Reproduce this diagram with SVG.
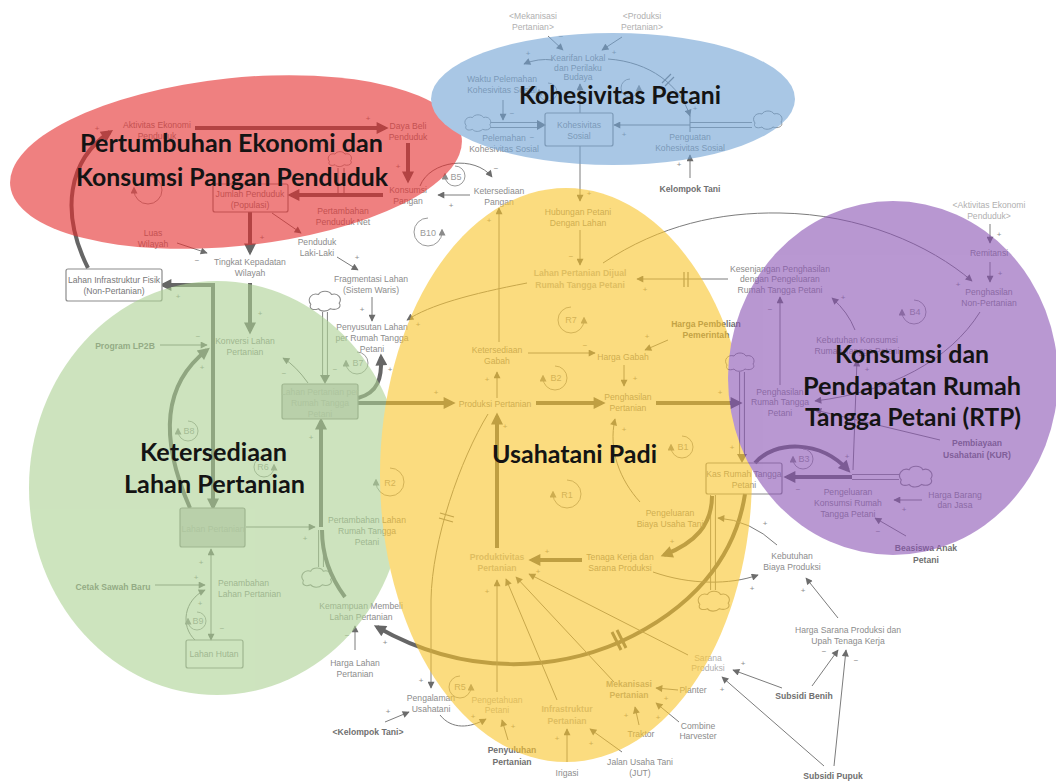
<svg xmlns="http://www.w3.org/2000/svg" width="1056" height="782" viewBox="0 0 1056 782">
<defs>
<style>
.t{font-family:"Liberation Sans",Arial,sans-serif;font-size:8.6px;fill:#8c8c8c;text-anchor:middle}
.b{font-weight:bold;fill:#707070}
.l{fill:#b0b0b0}
.lb{font-weight:bold;fill:#b4b4b4}
.sg{font-family:"Liberation Sans",Arial,sans-serif;font-size:8px;fill:#8c8c8c;text-anchor:middle}
.lp{font-family:"Liberation Sans",Arial,sans-serif;font-size:9px;fill:#9a9a9a;text-anchor:middle}
.c{fill:none;stroke:#7c7c7c;stroke-width:1}
.k{fill:none;stroke:#666;stroke-width:4}
.dm{fill:none;stroke:#777;stroke-width:1.2}
.box{fill:none;stroke:#8c8c8c;stroke-width:1.2}
.stk{fill:#cdcdcd;stroke:#8c8c8c;stroke-width:1.2}
.po{fill:none;stroke:#8c8c8c;stroke-width:6}
.pi{fill:none;stroke:#fff;stroke-width:3.8}
.lpc{fill:none;stroke:#9a9a9a;stroke-width:1}
.ttl{font-family:Lato,"Open Sans",sans-serif;font-weight:bold;font-size:24px;fill:#141414}
.reg{opacity:0.6}
</style>
<marker id="a" viewBox="0 0 10 10" refX="9" refY="5" markerWidth="9" markerHeight="7" markerUnits="userSpaceOnUse" orient="auto-start-reverse"><path d="M0,0L10,5L0,10z" fill="#6c6c6c"/></marker>
<marker id="A" viewBox="0 0 10 10" refX="7" refY="5" markerWidth="15" markerHeight="12" markerUnits="userSpaceOnUse" orient="auto-start-reverse"><path d="M0,0L10,5L0,10z" fill="#666"/></marker>
<marker id="s" viewBox="0 0 10 10" refX="5" refY="5" markerWidth="7" markerHeight="7" markerUnits="userSpaceOnUse" orient="auto"><path d="M0,0L10,5L0,10z" fill="#8a8a8a"/></marker>
<symbol id="cloud" viewBox="-17 -11 34 22"><path d="M-13,3C-17,-2 -12,-8 -6,-6C-4,-10 4,-10 6,-6C12,-8 16,-2 13,2C16,6 10,9 5,7C2,10 -4,10 -6,7C-11,9 -15,7 -13,3Z" fill="#fff" stroke="#8c8c8c" stroke-width="1"/></symbol>
</defs>
<rect width="1056" height="782" fill="#fff"/>

<!-- flows: pipes and clouds -->
<g id="flows">
  <path class="po" d="M490,125L540,125"/><path class="pi" d="M489,125L541,125"/>
  <polygon points="546,125 537,120 537,130" fill="#6c6c6c"/>
  <path class="po" d="M690,125L752,125"/><path class="pi" d="M689,125L753,125"/>
  <path class="c" d="M690,116L690,132"/>
  <use href="#cloud" x="462" y="113" width="32" height="20"/>
  <use href="#cloud" x="751" y="109" width="34" height="22"/>
  <use href="#cloud" x="325" y="150" width="30" height="18"/>
  <path class="c" d="M338,168L338,193M344,168L344,193"/>
  <path class="po" d="M325,312L325,377"/><path class="pi" d="M325,311L325,378"/>
  <polygon points="325,384 320,375 330,375" fill="#6c6c6c"/>
  <use href="#cloud" x="306" y="289" width="38" height="24"/>
  <path class="po" d="M321,530L321,567"/><path class="pi" d="M321,529L321,568"/>
  <use href="#cloud" x="299" y="566" width="36" height="23"/>
  <path class="po" d="M742,372L742,456"/><path class="pi" d="M742,371L742,457"/>
  <polygon points="742,463 737,454 747,454" fill="#6c6c6c"/>
  <use href="#cloud" x="723" y="351" width="34" height="22"/>
  <path class="po" d="M852,477L899,477"/><path class="pi" d="M851,477L900,477"/>
  <use href="#cloud" x="896" y="464" width="40" height="25"/>
  <path class="po" d="M713,495L713,590"/><path class="pi" d="M713,494L713,591"/>
  <use href="#cloud" x="695" y="589" width="38" height="24"/>
</g>

<!-- causal links -->
<g id="connectors">
  <!-- social cohesion -->
  <path class="c" marker-end="url(#a)" d="M548,36L563,50"/>
  <path class="c" marker-end="url(#a)" d="M622,37L602,50"/>
  <path class="c" marker-end="url(#a)" d="M553,60Q538,58 524,64"/>
  <path class="c" marker-end="url(#a)" d="M608,59C650,62 680,85 690,116"/>
  <path class="dm" d="M662,83L671,74M665,86L674,77"/>
  <path class="c" marker-end="url(#a)" d="M503,100L503,120"/>
  <path class="c" marker-end="url(#a)" d="M690,125L614,125"/>
  <path class="c" marker-end="url(#a)" d="M580,113L580,84"/>
  <path class="c" marker-end="url(#a)" d="M580,146L580,201"/>
  <path class="c" marker-end="url(#a)" d="M690,178L690,155"/>
  <!-- population and food consumption -->
  <path class="k" marker-end="url(#A)" d="M195,128L385,128"/>
  <path class="k" marker-end="url(#A)" d="M408,143L408,180"/>
  <path class="k" marker-end="url(#A)" d="M383,195L291,195"/>
  <path class="k" marker-end="url(#A)" d="M250,212L250,252"/>
  <path class="c" marker-end="url(#a)" d="M272,213L301,233"/>
  <path class="c" marker-end="url(#a)" d="M420,186C430,160 475,155 492,177"/>
  <path class="c" marker-end="url(#a)" d="M470,195L438,195"/>
  <path class="c" marker-end="url(#a)" d="M177,243L207,253"/>
  <path class="k" marker-end="url(#A)" d="M88,268C60,212 68,160 110,132"/>
  <path class="c" marker-end="url(#a)" d="M337,257L358,270"/>
  <!-- land availability -->
  <path class="k" marker-end="url(#A)" d="M213,287L213,507"/>
  <path class="k" marker-end="url(#A)" d="M215,285L163,285"/>
  <path class="k" marker-end="url(#A)" d="M250,283L250,331"/>
  <path class="c" marker-end="url(#a)" d="M160,345L207,345"/>
  <path class="k" marker-end="url(#A)" d="M190,508C160,440 162,385 207,350"/>
  <path class="c" marker-end="url(#a)" d="M308,383Q296,366 283,358"/>
  <path class="k" marker-end="url(#A)" d="M358,403L452,403"/>
  <path class="k" marker-end="url(#A)" d="M358,398C378,393 382,378 381,357"/>
  <path class="c" marker-end="url(#a)" d="M372,297L372,321"/>
  <path class="c" marker-end="url(#a)" d="M527,283C470,294 430,305 407,320"/>
  <path class="k" marker-end="url(#A)" d="M321,527L321,421"/>
  <path class="c" marker-end="url(#a)" d="M246,527L315,527"/>
  <path class="k" d="M345,597C330,577 322,555 322,530"/>
  <path class="c" marker-start="url(#a)" marker-end="url(#a)" d="M211,549L211,640"/>
  <path class="c" marker-end="url(#a)" d="M155,585L205,585"/>
  <path class="c" marker-end="url(#a)" d="M195,640C180,626 184,600 205,590"/>
  <path class="c" marker-end="url(#a)" d="M355,650L355,626"/>
  <path class="k" marker-end="url(#A)" d="M745,494C735,560 690,610 620,642C560,668 470,680 377,627"/>
  <path class="dm" style="stroke-width:3;stroke:#666" d="M612,632L621,650M617,630L626,648"/>
  <!-- rice farming -->
  <path class="c" marker-end="url(#a)" d="M580,230L580,265"/>
  <path class="c" marker-end="url(#a)" d="M728,279L637,279"/>
  <path class="dm" d="M684,272L684,287M688,272L688,287"/>
  <path class="c" marker-end="url(#a)" d="M603,263C660,225 720,212 780,213C860,214 930,245 972,281"/>
  <path class="c" marker-end="url(#a)" d="M499,342L499,208"/>
  <path class="c" marker-end="url(#a)" d="M528,353L595,353"/>
  <path class="c" marker-end="url(#a)" d="M668,340L645,350"/>
  <path class="c" marker-end="url(#a)" d="M624,365L624,386"/>
  <path class="c" marker-end="url(#a)" d="M497,398L497,372"/>
  <path class="k" marker-end="url(#A)" d="M536,403L602,403"/>
  <path class="k" marker-end="url(#A)" d="M656,403L739,403"/>
  <path class="c" marker-end="url(#a)" d="M640,502C620,480 608,450 615,419"/>
  <path class="c" marker-end="url(#a)" d="M777,545Q750,520 718,518"/>
  <path class="k" marker-end="url(#A)" d="M712,496C712,525 695,543 664,555"/>
  <path class="k" marker-end="url(#A)" d="M582,560L532,560"/>
  <path class="c" marker-end="url(#a)" d="M653,572C690,585 730,585 758,575"/>
  <path class="c" marker-end="url(#a)" d="M838,618L806,578"/>
  <path class="c" marker-end="url(#a)" d="M812,686L838,650"/>
  <path class="c" marker-end="url(#a)" d="M834,766L846,650"/>
  <path class="c" marker-end="url(#a)" d="M782,688L733,670"/>
  <path class="c" marker-end="url(#a)" d="M824,766L722,677"/>
  <path class="c" marker-end="url(#a)" d="M688,655L529,574"/>
  <path class="c" marker-end="url(#a)" d="M614,682L516,577"/>
  <path class="c" marker-end="url(#a)" d="M557,700L506,579"/>
  <path class="c" marker-end="url(#a)" d="M497,692L497,580"/>
  <path class="k" marker-end="url(#A)" d="M497,548L497,416"/>
  <path class="c" marker-end="url(#a)" d="M488,414C460,460 432,540 431,600L431,688"/>
  <path class="dm" d="M440,513L454,517M439,518L453,522"/>
  <path class="c" marker-end="url(#a)" d="M385,722L409,712"/>
  <path class="c" marker-end="url(#a)" d="M440,715C452,730 470,728 486,719"/>
  <path class="c" marker-end="url(#a)" d="M508,740L502,720"/>
  <path class="c" marker-end="url(#a)" d="M567,762L567,729"/>
  <path class="c" marker-end="url(#a)" d="M622,752L590,729"/>
  <path class="c" marker-end="url(#a)" d="M678,690L656,688"/>
  <path class="c" marker-end="url(#a)" d="M639,725L635,707"/>
  <path class="c" marker-end="url(#a)" d="M679,722L656,703"/>
  <!-- household income and consumption -->
  <path class="c" marker-end="url(#a)" d="M780,385L780,297"/>
  <path class="c" marker-end="url(#a)" d="M855,330Q848,312 832,298"/>
  <path class="c" marker-end="url(#a)" d="M853,470L857,360"/>
  <path class="c" marker-end="url(#a)" d="M990,224L990,243"/>
  <path class="c" marker-end="url(#a)" d="M990,262L990,282"/>
  <path class="c" marker-end="url(#a)" d="M980,312C950,360 890,392 815,401"/>
  <path class="c" marker-end="url(#a)" d="M940,440L815,410"/>
  <path class="k" marker-end="url(#A)" d="M852,477L787,477"/>
  <path class="k" marker-end="url(#A)" d="M755,463C775,440 820,440 848,470"/>
  <path class="c" marker-end="url(#a)" d="M922,500L894,500"/>
  <path class="c" marker-end="url(#a)" d="M906,536L875,518"/>
</g>

<!-- loop markers -->
<g id="loops">
  <path class="lpc" marker-end="url(#s)" d="M455,166A10,10 0 1 1 445,176"/><text class="lp" x="456" y="180">B5</text>
  <path class="lpc" marker-end="url(#s)" d="M428,218A14,14 0 1 0 442,232"/><text class="lp" x="428" y="236">B10</text>
  <path class="lpc" marker-end="url(#s)" d="M148,176A14,14 0 1 1 134,190"/>
  <path class="lpc" marker-end="url(#s)" d="M548,83A9,9 0 1 1 539,92"/>
  <path class="lpc" marker-end="url(#s)" d="M630,79A9,9 0 1 0 639,88"/>
  <path class="lpc" marker-end="url(#s)" d="M188,421A10,10 0 1 1 178,431"/><text class="lp" x="189" y="434">B8</text>
  <path class="lpc" marker-end="url(#s)" d="M357,352A11,11 0 1 1 346,363"/><text class="lp" x="358" y="366">B7</text>
  <path class="lpc" marker-end="url(#s)" d="M264,457A10,10 0 1 0 274,467"/><text class="lp" x="263" y="470">R6</text>
  <path class="lpc" marker-end="url(#s)" d="M197,612A9,9 0 1 1 188,621"/><text class="lp" x="198" y="624">B9</text>
  <path class="lpc" marker-end="url(#s)" d="M390,468A14,14 0 1 1 376,482"/><text class="lp" x="390" y="486">R2</text>
  <path class="lpc" marker-end="url(#s)" d="M567,480A14,14 0 1 1 553,494"/><text class="lp" x="567" y="498">R1</text>
  <path class="lpc" marker-end="url(#s)" d="M682,436A11,11 0 1 1 671,447"/><text class="lp" x="683" y="450">B1</text>
  <path class="lpc" marker-end="url(#s)" d="M555,366A12,12 0 1 1 543,378"/><text class="lp" x="556" y="381">B2</text>
  <path class="lpc" marker-end="url(#s)" d="M571,307A13,13 0 1 0 584,320"/><text class="lp" x="571" y="323">R7</text>
  <path class="lpc" marker-end="url(#s)" d="M803,449A10,10 0 1 1 793,459"/><text class="lp" x="804" y="462">B3</text>
  <path class="lpc" marker-end="url(#s)" d="M914,300A12,12 0 1 1 902,312"/><text class="lp" x="915" y="315">B4</text>
  <path class="lpc" marker-end="url(#s)" d="M460,676A11,11 0 1 0 471,687"/><text class="lp" x="460" y="690">R5</text>
</g>

<!-- polarity signs -->
<g id="signs" class="sg">
  <text x="561" y="39">−</text><text x="528" y="56">+</text><text x="614" y="55">+</text>
  <text x="512" y="116">−</text><text x="532" y="140">−</text><text x="624" y="137">+</text>
  <text x="695" y="111">+</text><text x="679" y="167">+</text><text x="589" y="196">+</text>
  <text x="368" y="121">+</text><text x="398" y="169">+</text><text x="451" y="208">+</text>
  <text x="262" y="240">+</text><text x="97" y="131">+</text><text x="197" y="263">−</text>
  <text x="357" y="260">+</text><text x="496" y="171">−</text>
  <text x="178" y="299">+</text><text x="260" y="316">+</text><text x="198" y="339">−</text>
  <text x="202" y="370">+</text><text x="284" y="376">−</text><text x="335" y="372">−</text>
  <text x="311" y="440">+</text><text x="362" y="312">+</text><text x="418" y="327">+</text>
  <text x="390" y="372">+</text><text x="436" y="395">+</text>
  <text x="201" y="565">+</text><text x="196" y="580">+</text><text x="200" y="606">+</text>
  <text x="222" y="631">−</text><text x="305" y="541">+</text><text x="347" y="638">−</text>
  <text x="385" y="645">+</text>
  <text x="489" y="223">+</text><text x="571" y="259">−</text><text x="645" y="292">+</text>
  <text x="647" y="339">+</text><text x="585" y="348">−</text><text x="635" y="381">+</text>
  <text x="487" y="382">+</text><text x="505" y="429">+</text><text x="547" y="554">+</text>
  <text x="487" y="594">+</text><text x="538" y="574">+</text><text x="624" y="432">+</text>
  <text x="672" y="544">+</text><text x="720" y="395">+</text><text x="732" y="450">+</text>
  <text x="798" y="492">−</text><text x="847" y="459">+</text><text x="867" y="372">+</text>
  <text x="904" y="512">+</text><text x="878" y="534">−</text><text x="765" y="526">+</text>
  <text x="843" y="300">+</text><text x="770" y="312">−</text><text x="958" y="287">+</text>
  <text x="999" y="237">+</text><text x="1000" y="276">+</text>
  <text x="752" y="591">+</text><text x="803" y="593">+</text><text x="824" y="654">−</text>
  <text x="856" y="663">−</text><text x="743" y="666">+</text><text x="722" y="692">+</text>
  <text x="666" y="701">+</text><text x="658" y="720">+</text>
  <text x="421" y="683">+</text><text x="388" y="714">+</text><text x="473" y="719">+</text>
  <text x="513" y="729">+</text><text x="557" y="741">+</text><text x="591" y="746">+</text>
  <text x="626" y="718">+</text>
</g>

<!-- variables -->
<g id="n-mekanisasi-shadow"><text class="t l"><tspan x="533" y="19">&lt;Mekanisasi</tspan><tspan x="533" y="30">Pertanian&gt;</tspan></text></g>
<g id="n-produksi-shadow"><text class="t l"><tspan x="642" y="19">&lt;Produksi</tspan><tspan x="642" y="30">Pertanian&gt;</tspan></text></g>
<g id="n-kearifan"><text class="t"><tspan x="578" y="61">Kearifan Lokal</tspan><tspan x="578" y="70.5">dan Perilaku</tspan><tspan x="578" y="80">Budaya</tspan></text></g>
<g id="n-waktu"><text class="t"><tspan x="502" y="82">Waktu Pelemahan</tspan><tspan x="502" y="93">Kohesivitas Sosial</tspan></text></g>
<g id="n-kohesivitas"><rect class="box" x="545" y="113" width="68" height="33" rx="2"/><text class="t"><tspan x="579" y="128">Kohesivitas</tspan><tspan x="579" y="139">Sosial</tspan></text></g>
<g id="n-pelemahan"><text class="t"><tspan x="504" y="141">Pelemahan</tspan><tspan x="504" y="152">Kohesivitas Sosial</tspan></text></g>
<g id="n-penguatan"><text class="t"><tspan x="690" y="140">Penguatan</tspan><tspan x="690" y="151">Kohesivitas Sosial</tspan></text></g>
<g id="n-kelompok"><text class="t b" x="690" y="192">Kelompok Tani</text></g>
<g id="n-aktivitas"><text class="t"><tspan x="157" y="128">Aktivitas Ekonomi</tspan><tspan x="157" y="139">Penduduk</tspan></text></g>
<g id="n-dayabeli"><text class="t"><tspan x="408" y="129">Daya Beli</tspan><tspan x="408" y="140">Penduduk</tspan></text></g>
<g id="n-konsumsi"><text class="t"><tspan x="408" y="193">Konsumsi</tspan><tspan x="408" y="204">Pangan</tspan></text></g>
<g id="n-jumlah"><rect class="box" x="213" y="184" width="75" height="28" rx="2"/><text class="t"><tspan x="250" y="197">Jumlah Penduduk</tspan><tspan x="250" y="208">(Populasi)</tspan></text></g>
<g id="n-pertambahan-penduduk"><text class="t"><tspan x="343" y="214">Pertambahan</tspan><tspan x="343" y="225">Penduduk Net</tspan></text></g>
<g id="n-ketersediaan-pangan"><text class="t"><tspan x="499" y="194">Ketersediaan</tspan><tspan x="499" y="205">Pangan</tspan></text></g>
<g id="n-luas"><text class="t"><tspan x="153" y="236">Luas</tspan><tspan x="153" y="247">Wilayah</tspan></text></g>
<g id="n-kepadatan"><text class="t"><tspan x="250" y="265">Tingkat Kepadatan</tspan><tspan x="250" y="276">Wilayah</tspan></text></g>
<g id="n-lakilaki"><text class="t"><tspan x="317" y="245">Penduduk</tspan><tspan x="317" y="256">Laki-Laki</tspan></text></g>
<g id="n-fragmentasi"><text class="t"><tspan x="371" y="282">Fragmentasi Lahan</tspan><tspan x="371" y="293">(Sistem Waris)</tspan></text></g>
<g id="n-infrastruktur-fisik"><rect x="66" y="269" width="96" height="32" rx="2" fill="#fff" stroke="#8c8c8c" stroke-width="1.2"/><text class="t" style="fill:#777"><tspan x="114" y="283">Lahan Infrastruktur Fisik</tspan><tspan x="114" y="294">(Non-Pertanian)</tspan></text></g>
<g id="n-lp2b"><text class="t b" x="125" y="349">Program LP2B</text></g>
<g id="n-konversi"><text class="t"><tspan x="245" y="344">Konversi Lahan</tspan><tspan x="245" y="355">Pertanian</tspan></text></g>
<g id="n-lahan-rtp"><rect class="stk" x="282" y="384" width="76" height="35" rx="2"/><text class="t l"><tspan x="320" y="395">Lahan Pertanian per</tspan><tspan x="320" y="406">Rumah Tangga</tspan><tspan x="320" y="417">Petani</tspan></text></g>
<g id="n-penyusutan"><text class="t"><tspan x="372" y="330">Penyusutan Lahan</tspan><tspan x="372" y="341">per Rumah Tangga</tspan><tspan x="372" y="352">Petani</tspan></text></g>
<g id="n-dijual"><text class="t lb"><tspan x="580" y="276">Lahan Pertanian Dijual</tspan><tspan x="580" y="288">Rumah Tangga Petani</tspan></text></g>
<g id="n-hubungan"><text class="t"><tspan x="578" y="215">Hubungan Petani</tspan><tspan x="578" y="226">Dengan Lahan</tspan></text></g>
<g id="n-ketersediaan-gabah"><text class="t"><tspan x="497" y="353">Ketersediaan</tspan><tspan x="497" y="364">Gabah</tspan></text></g>
<g id="n-harga-gabah"><text class="t" x="623" y="360">Harga Gabah</text></g>
<g id="n-harga-pembelian"><text class="t b"><tspan x="706" y="327">Harga Pembelian</tspan><tspan x="706" y="338">Pemerintah</tspan></text></g>
<g id="n-produksi"><text class="t" x="495" y="407">Produksi Pertanian</text></g>
<g id="n-penghasilan-pertanian"><text class="t"><tspan x="628" y="400">Penghasilan</tspan><tspan x="628" y="411">Pertanian</tspan></text></g>
<g id="n-kesenjangan"><text class="t"><tspan x="780" y="272">Kesenjangan Penghasilan</tspan><tspan x="780" y="282">dengan Pengeluaran</tspan><tspan x="780" y="293">Rumah Tangga Petani</tspan></text></g>
<g id="n-kebutuhan-konsumsi"><text class="t"><tspan x="857" y="343">Kebutuhan Konsumsi</tspan><tspan x="857" y="354">Rumah Tangga Petani</tspan></text></g>
<g id="n-aktivitas-shadow"><text class="t l"><tspan x="989" y="208">&lt;Aktivitas Ekonomi</tspan><tspan x="989" y="219">Penduduk&gt;</tspan></text></g>
<g id="n-remitansi"><text class="t" x="989" y="256">Remitansi</text></g>
<g id="n-penghasilan-np"><text class="t"><tspan x="989" y="295">Penghasilan</tspan><tspan x="989" y="306">Non-Pertanian</tspan></text></g>
<g id="n-penghasilan-rtp"><text class="t"><tspan x="780" y="395">Penghasilan</tspan><tspan x="780" y="405">Rumah Tangga</tspan><tspan x="780" y="416">Petani</tspan></text></g>
<g id="n-kur"><text class="t b"><tspan x="977" y="446">Pembiayaan</tspan><tspan x="977" y="458">Usahatani (KUR)</tspan></text></g>
<g id="n-kas"><rect class="box" x="706" y="463" width="76" height="31" rx="2"/><text class="t"><tspan x="744" y="477">Kas Rumah Tangga</tspan><tspan x="744" y="488">Petani</tspan></text></g>
<g id="n-pengeluaran-konsumsi"><text class="t"><tspan x="848" y="495">Pengeluaran</tspan><tspan x="848" y="506">Konsumsi Rumah</tspan><tspan x="848" y="517">Tangga Petani</tspan></text></g>
<g id="n-harga-barang"><text class="t"><tspan x="955" y="498">Harga Barang</tspan><tspan x="955" y="508">dan Jasa</tspan></text></g>
<g id="n-beasiswa"><text class="t b"><tspan x="926" y="551">Beasiswa Anak</tspan><tspan x="926" y="563">Petani</tspan></text></g>
<g id="n-biaya-usaha"><text class="t"><tspan x="670" y="516">Pengeluaran</tspan><tspan x="670" y="527">Biaya Usaha Tani</tspan></text></g>
<g id="n-tenaga"><text class="t"><tspan x="620" y="560">Tenaga Kerja dan</tspan><tspan x="620" y="571">Sarana Produksi</tspan></text></g>
<g id="n-kebutuhan-biaya"><text class="t"><tspan x="792" y="559">Kebutuhan</tspan><tspan x="792" y="570">Biaya Produksi</tspan></text></g>
<g id="n-harga-sarana"><text class="t"><tspan x="848" y="633">Harga Sarana Produksi dan</tspan><tspan x="848" y="644">Upah Tenaga Kerja</tspan></text></g>
<g id="n-subsidi-benih"><text class="t b" x="804" y="699">Subsidi Benih</text></g>
<g id="n-subsidi-pupuk"><text class="t b" x="833" y="779">Subsidi Pupuk</text></g>
<g id="n-sarana"><text class="t l"><tspan x="708" y="661">Sarana</tspan><tspan x="708" y="671">Produksi</tspan></text></g>
<g id="n-produktivitas"><text class="t lb"><tspan x="497" y="560">Produktivitas</tspan><tspan x="497" y="571">Pertanian</tspan></text></g>
<g id="n-pertambahan-lahan"><text class="t"><tspan x="367" y="523">Pertambahan Lahan</tspan><tspan x="367" y="534">Rumah Tangga</tspan><tspan x="367" y="545">Petani</tspan></text></g>
<g id="n-lahan-pertanian"><rect class="stk" x="180" y="508" width="65" height="39" rx="2"/><text class="t l" x="213" y="532">Lahan Pertanian</text></g>
<g id="n-penambahan"><text class="t" style="text-anchor:start"><tspan x="218" y="586">Penambahan</tspan><tspan x="218" y="597">Lahan Pertanian</tspan></text></g>
<g id="n-cetak"><text class="t b" x="113" y="590">Cetak Sawah Baru</text></g>
<g id="n-hutan"><rect class="box" x="186" y="640" width="57" height="28" rx="2"/><text class="t" x="214" y="657">Lahan Hutan</text></g>
<g id="n-kemampuan"><text class="t"><tspan x="361" y="609">Kemampuan Membeli</tspan><tspan x="361" y="620">Lahan Pertanian</tspan></text></g>
<g id="n-harga-lahan"><text class="t"><tspan x="355" y="666">Harga Lahan</tspan><tspan x="355" y="677">Pertanian</tspan></text></g>
<g id="n-pengalaman"><text class="t"><tspan x="431" y="701">Pengalaman</tspan><tspan x="431" y="712">Usahatani</tspan></text></g>
<g id="n-kelompok-shadow"><text class="t b" x="368" y="735">&lt;Kelompok Tani&gt;</text></g>
<g id="n-pengetahuan"><text class="t l"><tspan x="497" y="703">Pengetahuan</tspan><tspan x="497" y="713">Petani</tspan></text></g>
<g id="n-penyuluhan"><text class="t b"><tspan x="512" y="753">Penyuluhan</tspan><tspan x="512" y="765">Pertanian</tspan></text></g>
<g id="n-infrastruktur"><text class="t lb"><tspan x="567" y="712">Infrastruktur</tspan><tspan x="567" y="724">Pertanian</tspan></text></g>
<g id="n-irigasi"><text class="t" x="567" y="776">Irigasi</text></g>
<g id="n-jut"><text class="t"><tspan x="640" y="765">Jalan Usaha Tani</tspan><tspan x="640" y="776">(JUT)</tspan></text></g>
<g id="n-mekanisasi"><text class="t lb" style="fill:#9c9c9c"><tspan x="629" y="687">Mekanisasi</tspan><tspan x="629" y="698">Pertanian</tspan></text></g>
<g id="n-planter"><text class="t" x="693" y="693">Planter</text></g>
<g id="n-traktor"><text class="t" x="641" y="737">Traktor</text></g>
<g id="n-combine"><text class="t"><tspan x="698" y="729">Combine</tspan><tspan x="698" y="739">Harvester</tspan></text></g>

<!-- translucent sub-system regions -->
<g id="regions" class="reg">
  <ellipse cx="236" cy="162" rx="227" ry="84" transform="rotate(-6 236 162)" fill="#e62c2c"/>
  <ellipse cx="613" cy="99" rx="182" ry="66" fill="#71a3d5"/>
  <ellipse cx="217" cy="488" rx="188" ry="207" fill="#acd293"/>
  <ellipse cx="566" cy="475" rx="186" ry="287" fill="#fac52b"/>
  <ellipse cx="893" cy="378" rx="165" ry="177" fill="#8a53b4"/>
</g>

<!-- sub-system titles -->
<g id="titles" class="ttl">
  <text x="80" y="152" textLength="303" lengthAdjust="spacingAndGlyphs">Pertumbuhan Ekonomi dan</text>
  <text x="76" y="186" textLength="312" lengthAdjust="spacingAndGlyphs">Konsumsi Pangan Penduduk</text>
  <text x="519" y="104" textLength="202" lengthAdjust="spacingAndGlyphs">Kohesivitas Petani</text>
  <text x="835" y="363" textLength="154" lengthAdjust="spacingAndGlyphs">Konsumsi dan</text>
  <text x="803" y="395" textLength="218" lengthAdjust="spacingAndGlyphs">Pendapatan Rumah</text>
  <text x="805" y="426" textLength="216" lengthAdjust="spacingAndGlyphs">Tangga Petani (RTP)</text>
  <text x="140" y="461" textLength="147" lengthAdjust="spacingAndGlyphs">Ketersediaan</text>
  <text x="124" y="493" textLength="181" lengthAdjust="spacingAndGlyphs">Lahan Pertanian</text>
  <text x="492" y="463" textLength="165" lengthAdjust="spacingAndGlyphs">Usahatani Padi</text>
</g>
</svg>
